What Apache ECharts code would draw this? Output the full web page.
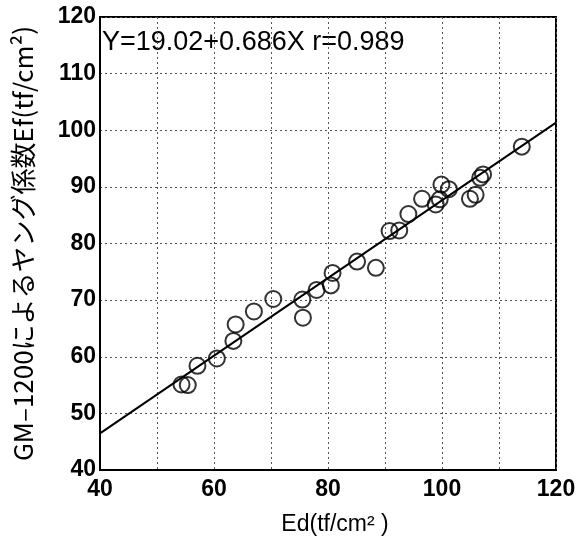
<!DOCTYPE html>
<html><head><meta charset="utf-8">
<script src="https://cdn.jsdelivr.net/npm/echarts@6/dist/echarts.min.js"></script>
<style>html,body{margin:0;padding:0;background:#fff}#c{width:588px;height:544px}</style>
</head><body><div id="c"></div>
<script>
const edValues = [54.3,55.4,57.1,60.5,63.4,63.8,67.0,70.4,75.5,75.6,78.0,80.5,80.8,85.1,88.4,90.8,92.5,94.1,96.5,98.9,99.6,99.9,101.2,104.9,105.9,106.7,107.2,114.0];
const efValues = [55.1,55.0,58.4,59.7,62.8,65.7,68.0,70.2,70.1,66.9,71.8,72.6,74.8,76.8,75.7,82.2,82.3,85.2,87.9,86.9,87.8,90.4,89.6,87.9,88.6,91.6,92.2,97.1];
const fitIntercept = 19.02, fitSlope = 0.686;
const fitX = [40, 120];
const xTicks = [40, 60, 80, 100, 120];
const yTicks = [40, 50, 60, 70, 80, 90, 100, 110, 120];
const equationText = 'Y=19.02+0.686X r=0.989';
const xName = 'Ed(tf/cm\u00B2 )';
const yName = 'GM\u20131200によるヤング係数Ef(tf/cm\u00B2)';

const pts = edValues.map((x, i) => [x, efValues[i]]);
const fit = fitX.map(x => [x, fitIntercept + fitSlope * x]);
const font = '"Liberation Sans", Arial, sans-serif';
const chart = echarts.init(document.getElementById('c'));
chart.setOption({
  animation: false,
  grid: { left: 100, right: 32, top: 17, bottom: 74, show: true, borderColor: '#000', borderWidth: 2, backgroundColor: 'transparent' },
  xAxis: {
    type: 'value', min: 40, max: 120, interval: 10,
    name: xName, nameLocation: 'middle', nameGap: 43,
    nameTextStyle: { fontFamily: font, fontSize: 23, color: '#000', padding: [0, 0, 0, 14] },
    axisLine: { show: true, lineStyle: { color: '#000', width: 2 } },
    axisTick: { show: false },
    axisLabel: { fontFamily: font, fontSize: 23, fontWeight: 'bold', color: '#000', margin: 8,
      formatter: v => xTicks.includes(v) ? String(v) : '' },
    splitLine: { show: true, lineStyle: { color: '#555', type: [2, 3], width: 1 } }
  },
  yAxis: {
    type: 'value', min: 40, max: 120, interval: 10,
    name: yName, nameLocation: 'middle', nameGap: 64,
    nameTextStyle: { fontFamily: '"Noto Sans CJK JP", ' + font, fontSize: 26, color: '#000' },
    axisLine: { show: true, lineStyle: { color: '#000', width: 2 } },
    axisTick: { show: false },
    axisLabel: { fontFamily: font, fontSize: 23, fontWeight: 'bold', color: '#000', margin: 4,
      formatter: v => yTicks.includes(v) ? String(v) : '' },
    splitLine: { show: true, lineStyle: { color: '#555', type: [2, 3], width: 1 } }
  },
  series: [
    { type: 'line', data: fit, symbol: 'none', lineStyle: { color: '#000', width: 2 }, z: 2 },
    { type: 'scatter', data: pts, symbol: 'circle', symbolSize: 16,
      itemStyle: { color: 'rgba(255,255,255,0)', borderColor: '#000', borderWidth: 2 }, z: 3 }
  ],
  graphic: [{ type: 'text', left: 102, top: 29,
    style: { text: equationText, font: '27px ' + font, fill: '#000' } }]
});
</script></body></html>
